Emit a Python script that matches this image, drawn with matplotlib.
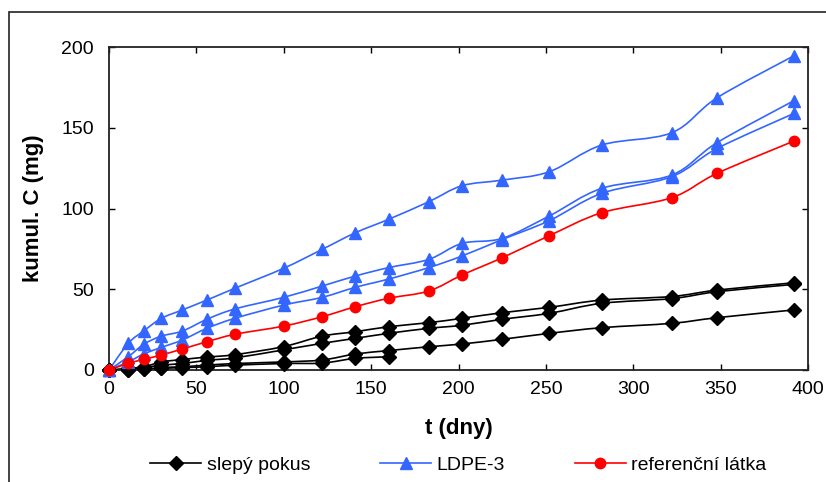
import matplotlib
matplotlib.use("Agg")
import matplotlib.pyplot as plt
import numpy as np
from matplotlib.path import Path
from matplotlib.patches import PathPatch, Rectangle
from matplotlib.lines import Line2D

plt.rcParams['font.family'] = ['Liberation Sans', 'DejaVu Sans']

# ---- data ----
t = [0, 11, 20, 30, 42, 56, 72, 100, 122, 141, 160, 183, 202, 225, 252, 282, 322, 348, 392]
t_short = t[:11]

blank_1 = [0, 1, 2, 5, 6.5, 8, 9.5, 14.5, 21, 23.7, 26.8, 29.3, 32, 35.5, 38.8, 43.3, 45.5, 49.5, 54]
blank_2 = [0, 0.5, 1.5, 3, 4, 6, 7.5, 12.5, 16.5, 19.6, 22.7, 25.8, 27.7, 31.4, 35.1, 41.3, 44.2, 48.5, 53]
blank_3 = [0, 0, 0.5, 1.5, 2, 3, 4, 5, 6.2, 9.9, 12, 14.4, 16.1, 19, 22.7, 26.2, 28.9, 32.4, 37.2]
blank_4 = [0, 0, 0.5, 1, 1.5, 2, 3, 4, 4.3, 7.2, 8.2]

ldpe_1 = [0, 16.5, 24.3, 32, 37.2, 43.3, 50.6, 63, 74.7, 85, 93.3, 104.2, 114.1, 117.6, 122.8, 139.3, 146.9, 168.6, 194.6]
ldpe_2 = [0, 8.2, 16, 21, 24.1, 31.4, 37.8, 45, 52, 58.2, 63.4, 68.5, 78.4, 81.5, 95.4, 112.5, 120.7, 140.8, 166.8]
ldpe_3 = [0, 5, 10, 14, 18.6, 25.8, 32, 40.2, 45, 51.2, 56.3, 63.4, 70.6, 80.8, 92.5, 109.4, 119.7, 137.2, 158.9]

ref = [0, 4.1, 6.6, 9.3, 13, 17.5, 22.1, 27.2, 33, 39.2, 44.4, 48.9, 58.8, 69.5, 83.2, 97.4, 106.7, 121.8, 141.8]

labels = ['slepý pokus', 'LDPE-3', 'referenční látka']
xticks = [0, 50, 100, 150, 200, 250, 300, 350, 400]
yticks = [0, 50, 100, 150, 200]

BLACK = '#000000'
BLUE = '#3366FF'
RED = '#FF0000'


def smooth_path(x, y):
    """Excel-like smoothed line: cubic Bezier through the data points."""
    p = np.column_stack([x, y]).astype(float)
    n = len(p)
    verts = [p[0]]
    codes = [Path.MOVETO]
    for i in range(n - 1):
        p0 = p[i - 1] if i > 0 else p[i]
        p1 = p[i]
        p2 = p[i + 1]
        p3 = p[i + 2] if i + 2 < n else p[i + 1]
        c1 = p1 + (p2 - p0) / 6.0
        c2 = p2 - (p3 - p1) / 6.0
        verts += [c1, c2, p2]
        codes += [Path.CURVE4] * 3
    return Path(verts, codes)


fig = plt.figure(figsize=(8.26, 4.82), dpi=100)
ax = fig.add_axes([109 / 826, 1 - 370 / 482, (808 - 109) / 826, (370 - 47) / 482])

series = [
    (t, blank_1, BLACK, 'D', 7.5),
    (t, blank_2, BLACK, 'D', 7.5),
    (t, blank_3, BLACK, 'D', 7.5),
    (t_short, blank_4, BLACK, 'D', 7.5),
    (t, ldpe_1, BLUE, '^', 8),
    (t, ldpe_2, BLUE, '^', 8),
    (t, ldpe_3, BLUE, '^', 8),
    (t, ref, RED, 'o', 7.5),
]
for x, y, c, m, ms in series:
    ax.add_patch(PathPatch(smooth_path(x, y), fill=False, edgecolor=c, lw=1.2, zorder=2))
    ax.plot(x, y, ls='none', marker=m, ms=ms, color=c, mec=c, zorder=3, clip_on=False)

ax.set_xlim(0, 400)
ax.set_ylim(0, 200)
ax.set_xticks(xticks)
ax.set_yticks(yticks)
ax.tick_params(direction='in', length=4, width=1, top=True, right=True,
               labelsize=14, colors='black')
ax.tick_params(axis='x', pad=8)
ax.tick_params(axis='y', pad=11)
for s in ax.spines.values():
    s.set_linewidth(1.3)
    s.set_color('#222222')

ax.set_xlabel('t (dny)', fontsize=16, fontweight='bold', labelpad=14)
ax.set_ylabel('kumul. C (mg)', fontsize=16, fontweight='bold', labelpad=12)

handles = [
    Line2D([], [], color=BLACK, marker='D', ms=7, lw=1.2),
    Line2D([], [], color=BLUE, marker='^', ms=8, lw=1.2),
    Line2D([], [], color=RED, marker='o', ms=7.5, lw=1.2),
]
fig.legend(handles, labels, loc='center', bbox_to_anchor=((109 + 808) / 2 / 826, 1 - 465 / 482),
           ncol=3, frameon=False, fontsize=14, handlelength=2.6, handletextpad=0.3,
           columnspacing=3.6)

# outer chart-area frame (cut off at right and bottom)
fig.add_artist(Rectangle((9 / 826, -0.1), 1.2, 1 - 12 / 482 + 0.1, transform=fig.transFigure,
                         fill=False, edgecolor='#222222', lw=1.2))

fig.savefig('out.png', dpi=100)
